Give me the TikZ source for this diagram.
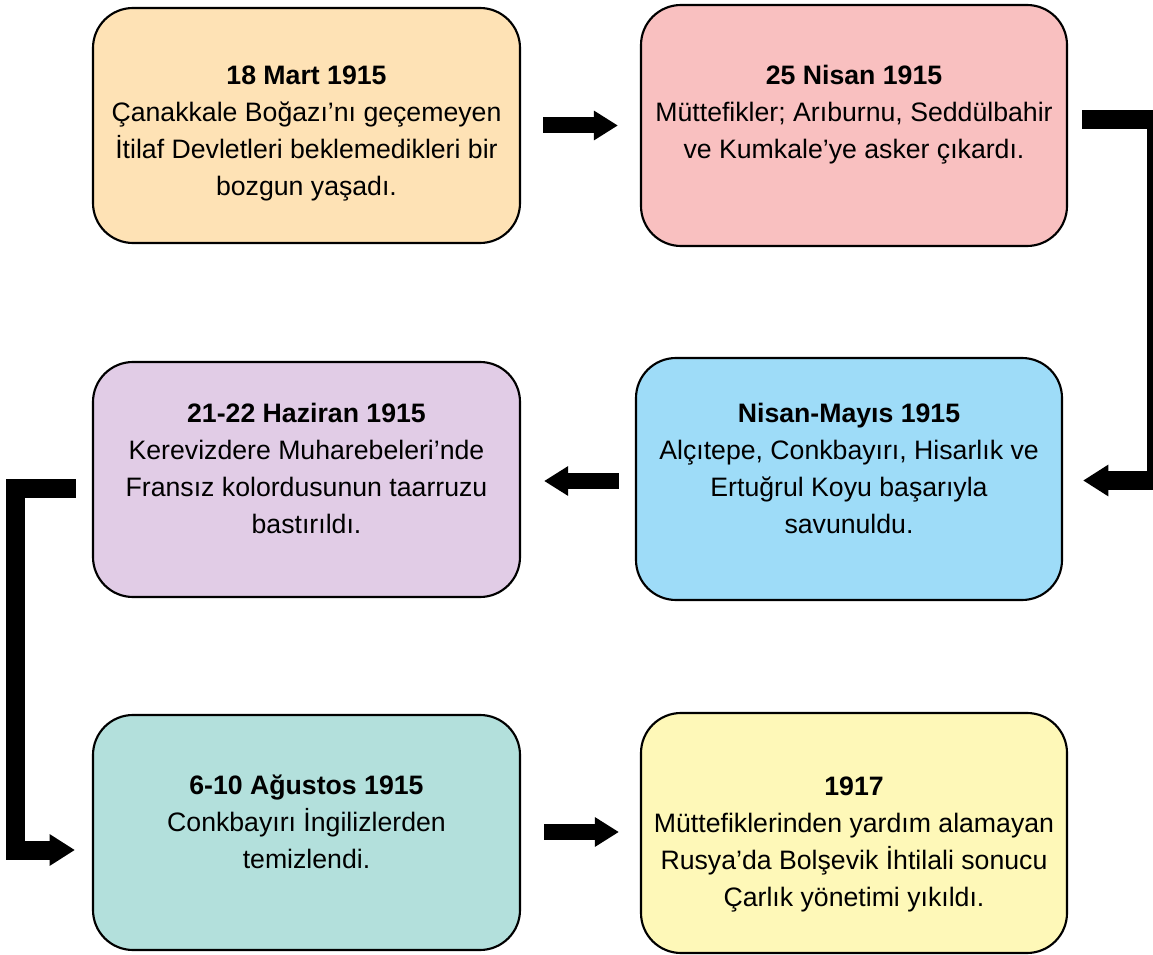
\documentclass[tikz,border=0pt]{standalone}
\usepackage{fontspec}
\setmainfont{Liberation Sans}
\usetikzlibrary{arrows.meta,calc}
\definecolor{cOrange}{HTML}{FEE2B5}
\definecolor{cPink}{HTML}{F9C0C0}
\definecolor{cBlue}{HTML}{9EDCF8}
\definecolor{cPurple}{HTML}{E1CCE6}
\definecolor{cTeal}{HTML}{B3E0DC}
\definecolor{cYellow}{HTML}{FEF8B8}
\begin{document}
\begin{tikzpicture}[x=0.75pt,y=-0.75pt,
  event/.style={draw=black,line width=1.6pt,rounded corners=30pt,inner sep=0pt},
  evtext/.style={inner sep=0pt,align=center,font=\fontsize{20}{27.75}\selectfont},
  bigarrow/.style={line width=12pt,-{Triangle[length=18pt,width=21pt]}},
  elbowarrow/.style={line width=14.25pt,line join=miter,-{Triangle[length=19pt,width=22.5pt]}}]
\useasboundingbox (0,0) rectangle (1153,955);
\node[event,fill=cOrange,minimum width=320.25pt,minimum height=176.25pt] (b1) at (306.5,125.5) {};
\node[event,fill=cPink,minimum width=319.5pt,minimum height=180.75pt] (b2) at (854,125.5) {};
\node[event,fill=cBlue,minimum width=319.5pt,minimum height=181.5pt] (b3) at (849,479) {};
\node[event,fill=cPurple,minimum width=320.25pt,minimum height=176.25pt] (b4) at (306.5,479.5) {};
\node[event,fill=cTeal,minimum width=320.25pt,minimum height=176.25pt] (b5) at (306.5,832.5) {};
\node[event,fill=cYellow,minimum width=319.5pt,minimum height=180pt] (b6) at (854,833) {};
\node[evtext] (t1) at ($(b1.center)+(0,8)$)
  {\textbf{18 Mart 1915}\\Çanakkale Boğazı’nı geçemeyen\\İtilaf Devletleri beklemedikleri bir\\bozgun yaşadı.};
\node[evtext] (t2) at ($(b2.center)+(0,-11)$)
  {\textbf{25 Nisan 1915}\\Müttefikler; Arıburnu, Seddülbahir\\ve Kumkale’ye asker çıkardı.};
\node[evtext] (t3) at ($(b3.center)+(0,-11)$)
  {\textbf{Nisan-Mayıs 1915}\\Alçıtepe, Conkbayırı, Hisarlık ve\\Ertuğrul Koyu başarıyla\\savunuldu.};
\node[evtext] (t4) at ($(b4.center)+(0,-11)$)
  {\textbf{21-22 Haziran 1915}\\Kerevizdere Muharebeleri’nde\\Fransız kolordusunun taarruzu\\bastırıldı.};
\node[evtext] (t5) at ($(b5.center)+(0,-11)$)
  {\textbf{6-10 Ağustos 1915}\\Conkbayırı İngilizlerden\\temizlendi.};
\node[evtext] (t6) at ($(b6.center)+(0,12)$)
  {\textbf{1917}\\Müttefiklerinden yardım alamayan\\Rusya’da Bolşevik İhtilali sonucu\\Çarlık yönetimi yıkıldı.};
% straight arrows
\draw[bigarrow] ($(b1.east)+(22,0)$) -- ($(b2.west)+(-22,0)$);
\draw[bigarrow] ($(b3.west)+(-16,2)$) -- ($(b4.east)+(23,1.5)$);
\draw[bigarrow] ($(b5.east)+(23,-0.5)$) -- ($(b6.west)+(-21,-1)$);
% elbow connectors
\draw[elbowarrow] ($(b2.east)+(14,-6)$) -- ++(74.5,0) |- ($(b3.east)+(20,1.5)$);
\draw[elbowarrow] ($(b4.west)+(-16,9)$) -- ++(-60.5,0) |- ($(b5.west)+(-17,17.5)$);
\end{tikzpicture}
\end{document}
